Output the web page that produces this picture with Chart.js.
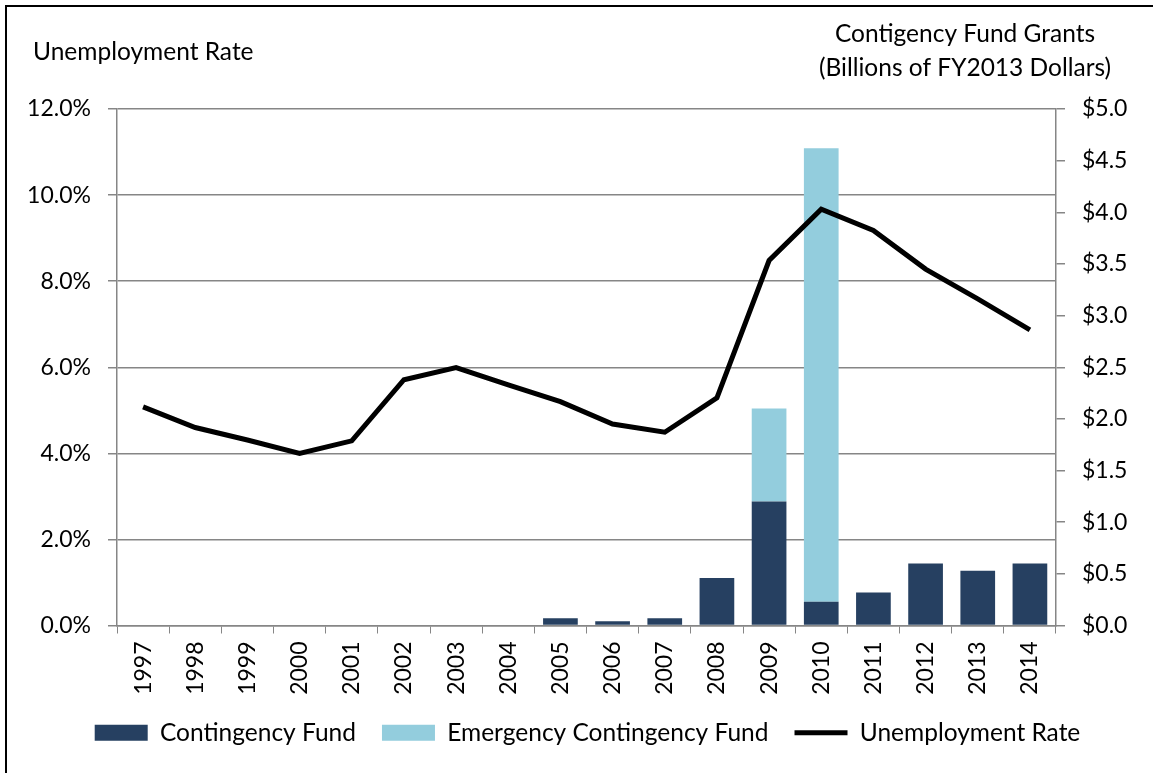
<!DOCTYPE html>
<html>
<head>
<meta charset="utf-8">
<script src="https://cdn.jsdelivr.net/npm/chart.js@4.4.0/dist/chart.umd.min.js"></script>
<style>
    html, body { margin: 0; padding: 0; background: #fff; }
    #wrap { position: relative; width: 1153px; height: 773px; }
</style>
</head>
<body>
<div id="wrap"><canvas id="fundChart"></canvas></div>
<script>
// ============= data ==========================================
const years = ['1997', '1998', '1999', '2000', '2001', '2002', '2003', '2004', '2005',
    '2006', '2007', '2008', '2009', '2010', '2011', '2012', '2013', '2014']

// unemployment rate, percent (left axis)
const unemploymentRate = [5.08, 4.60, 4.31, 4.00, 4.29, 5.71, 5.99, 5.59, 5.20,
    4.68, 4.49, 5.29, 8.48, 9.67, 9.18, 8.28, 7.59, 6.87]

// grants, billions of FY2013 dollars (right axis)
const contingencyFund = [0, 0, 0, 0, 0, 0, 0, 0, 0.07,
    0.04, 0.07, 0.46, 1.20, 0.23, 0.32, 0.60, 0.53, 0.60]
const emergencyFund = [0, 0, 0, 0, 0, 0, 0, 0, 0,
    0, 0, 0, 0.90, 4.39, 0, 0, 0, 0]

const rateTicks = [0, 2, 4, 6, 8, 10, 12]
const dollarTicks = [0, 0.5, 1, 1.5, 2, 2.5, 3, 3.5, 4, 4.5, 5]

const leftTitle = 'Unemployment Rate'
const rightTitle = ['Contigency Fund Grants', '(Billions of FY2013 Dollars)']

// ============= chart ==========================================
document.addEventListener('DOMContentLoaded', function () {
    const fontFamily = 'Lato, "Open Sans", sans-serif'
    const tickFont = { family: fontFamily, size: 23 }
    const labelFont = { family: fontFamily, size: 24.5 }
    const gray = '#868686'

    Chart.defaults.font.family = fontFamily
    Chart.defaults.color = '#000'

    // frame and the two axis titles above the plot
    const decorations = {
        id: 'decorations',
        beforeDraw(chart) {
            const ctx = chart.ctx
            ctx.save()
            ctx.fillStyle = '#fff'
            ctx.fillRect(0, 0, chart.width, chart.height)
            ctx.strokeStyle = '#000'
            ctx.lineWidth = 2
            ctx.strokeRect(6, 6, chart.width + 10, chart.height + 10)
            ctx.restore()
        },
        afterDraw(chart) {
            const ctx = chart.ctx
            ctx.save()
            ctx.fillStyle = '#000'
            ctx.font = '24.5px ' + fontFamily
            ctx.textBaseline = 'middle'
            ctx.textAlign = 'left'
            ctx.fillText(leftTitle, 33, 52)
            ctx.textAlign = 'center'
            ctx.fillText(rightTitle[0], 965, 34)
            ctx.fillText(rightTitle[1], 965, 68)
            ctx.restore()
        }
    }

    const ctx = document.getElementById('fundChart').getContext('2d')
    new Chart(ctx, {
        type: 'bar',
        data: {
            labels: years,
            datasets: [
                {
                    label: 'Contingency Fund',
                    data: contingencyFund,
                    backgroundColor: '#264061',
                    borderWidth: 0,
                    yAxisID: 'y2',
                    stack: 'funds',
                    pointStyle: 'rect',
                    order: 1
                },
                {
                    label: 'Emergency Contingency Fund',
                    data: emergencyFund,
                    backgroundColor: '#93CDDD',
                    borderWidth: 0,
                    yAxisID: 'y2',
                    stack: 'funds',
                    pointStyle: 'rect',
                    order: 1
                },
                {
                    type: 'line',
                    label: 'Unemployment Rate',
                    data: unemploymentRate,
                    borderColor: '#000',
                    backgroundColor: '#000',
                    borderWidth: 5,
                    pointRadius: 0,
                    tension: 0,
                    yAxisID: 'y',
                    pointStyle: 'line',
                    order: 0
                }
            ]
        },
        options: {
            responsive: true,
            maintainAspectRatio: false,
            animation: false,
            barPercentage: 0.665,
            categoryPercentage: 1,
            layout: {
                padding: { top: 109, left: 22, right: 0, bottom: 18 }
            },
            plugins: {
                legend: {
                    position: 'bottom',
                    labels: {
                        usePointStyle: true,
                        pointStyleWidth: 53,
                        boxHeight: 16,
                        padding: 26,
                        color: '#000',
                        font: labelFont,
                        sort: (a, b) => a.datasetIndex - b.datasetIndex
                    }
                },
                tooltip: { enabled: false }
            },
            scales: {
                x: {
                    stacked: true,
                    grid: {
                        drawOnChartArea: false,
                        color: gray,
                        tickLength: 8,
                        offset: true
                    },
                    border: { color: gray, width: 1.5 },
                    ticks: {
                        minRotation: 90,
                        maxRotation: 90,
                        padding: 8,
                        color: '#000',
                        font: tickFont
                    },
                    afterFit: s => { s.height = 69 }
                },
                y: {
                    position: 'left',
                    min: 0,
                    max: 12,
                    grid: { color: gray, lineWidth: 1.5, tickLength: 9 },
                    border: { color: gray, width: 1.5 },
                    ticks: {
                        padding: 17,
                        color: '#000',
                        font: tickFont,
                        callback: v => v.toFixed(1) + '%'
                    },
                    afterBuildTicks: s => { s.ticks = rateTicks.map(v => ({ value: v })) },
                    afterFit: s => { s.width = 117 - 22 }
                },
                y2: {
                    position: 'right',
                    stacked: true,
                    min: 0,
                    max: 5,
                    grid: { drawOnChartArea: false, color: gray, lineWidth: 1.5, tickLength: 9 },
                    border: { color: gray, width: 1.5 },
                    ticks: {
                        padding: 17,
                        color: '#000',
                        font: tickFont,
                        callback: v => '$' + v.toFixed(1)
                    },
                    afterBuildTicks: s => { s.ticks = dollarTicks.map(v => ({ value: v })) },
                    afterFit: s => { s.width = 1153 - 1056 }
                }
            }
        },
        plugins: [decorations]
    })
})
</script>
</body>
</html>
